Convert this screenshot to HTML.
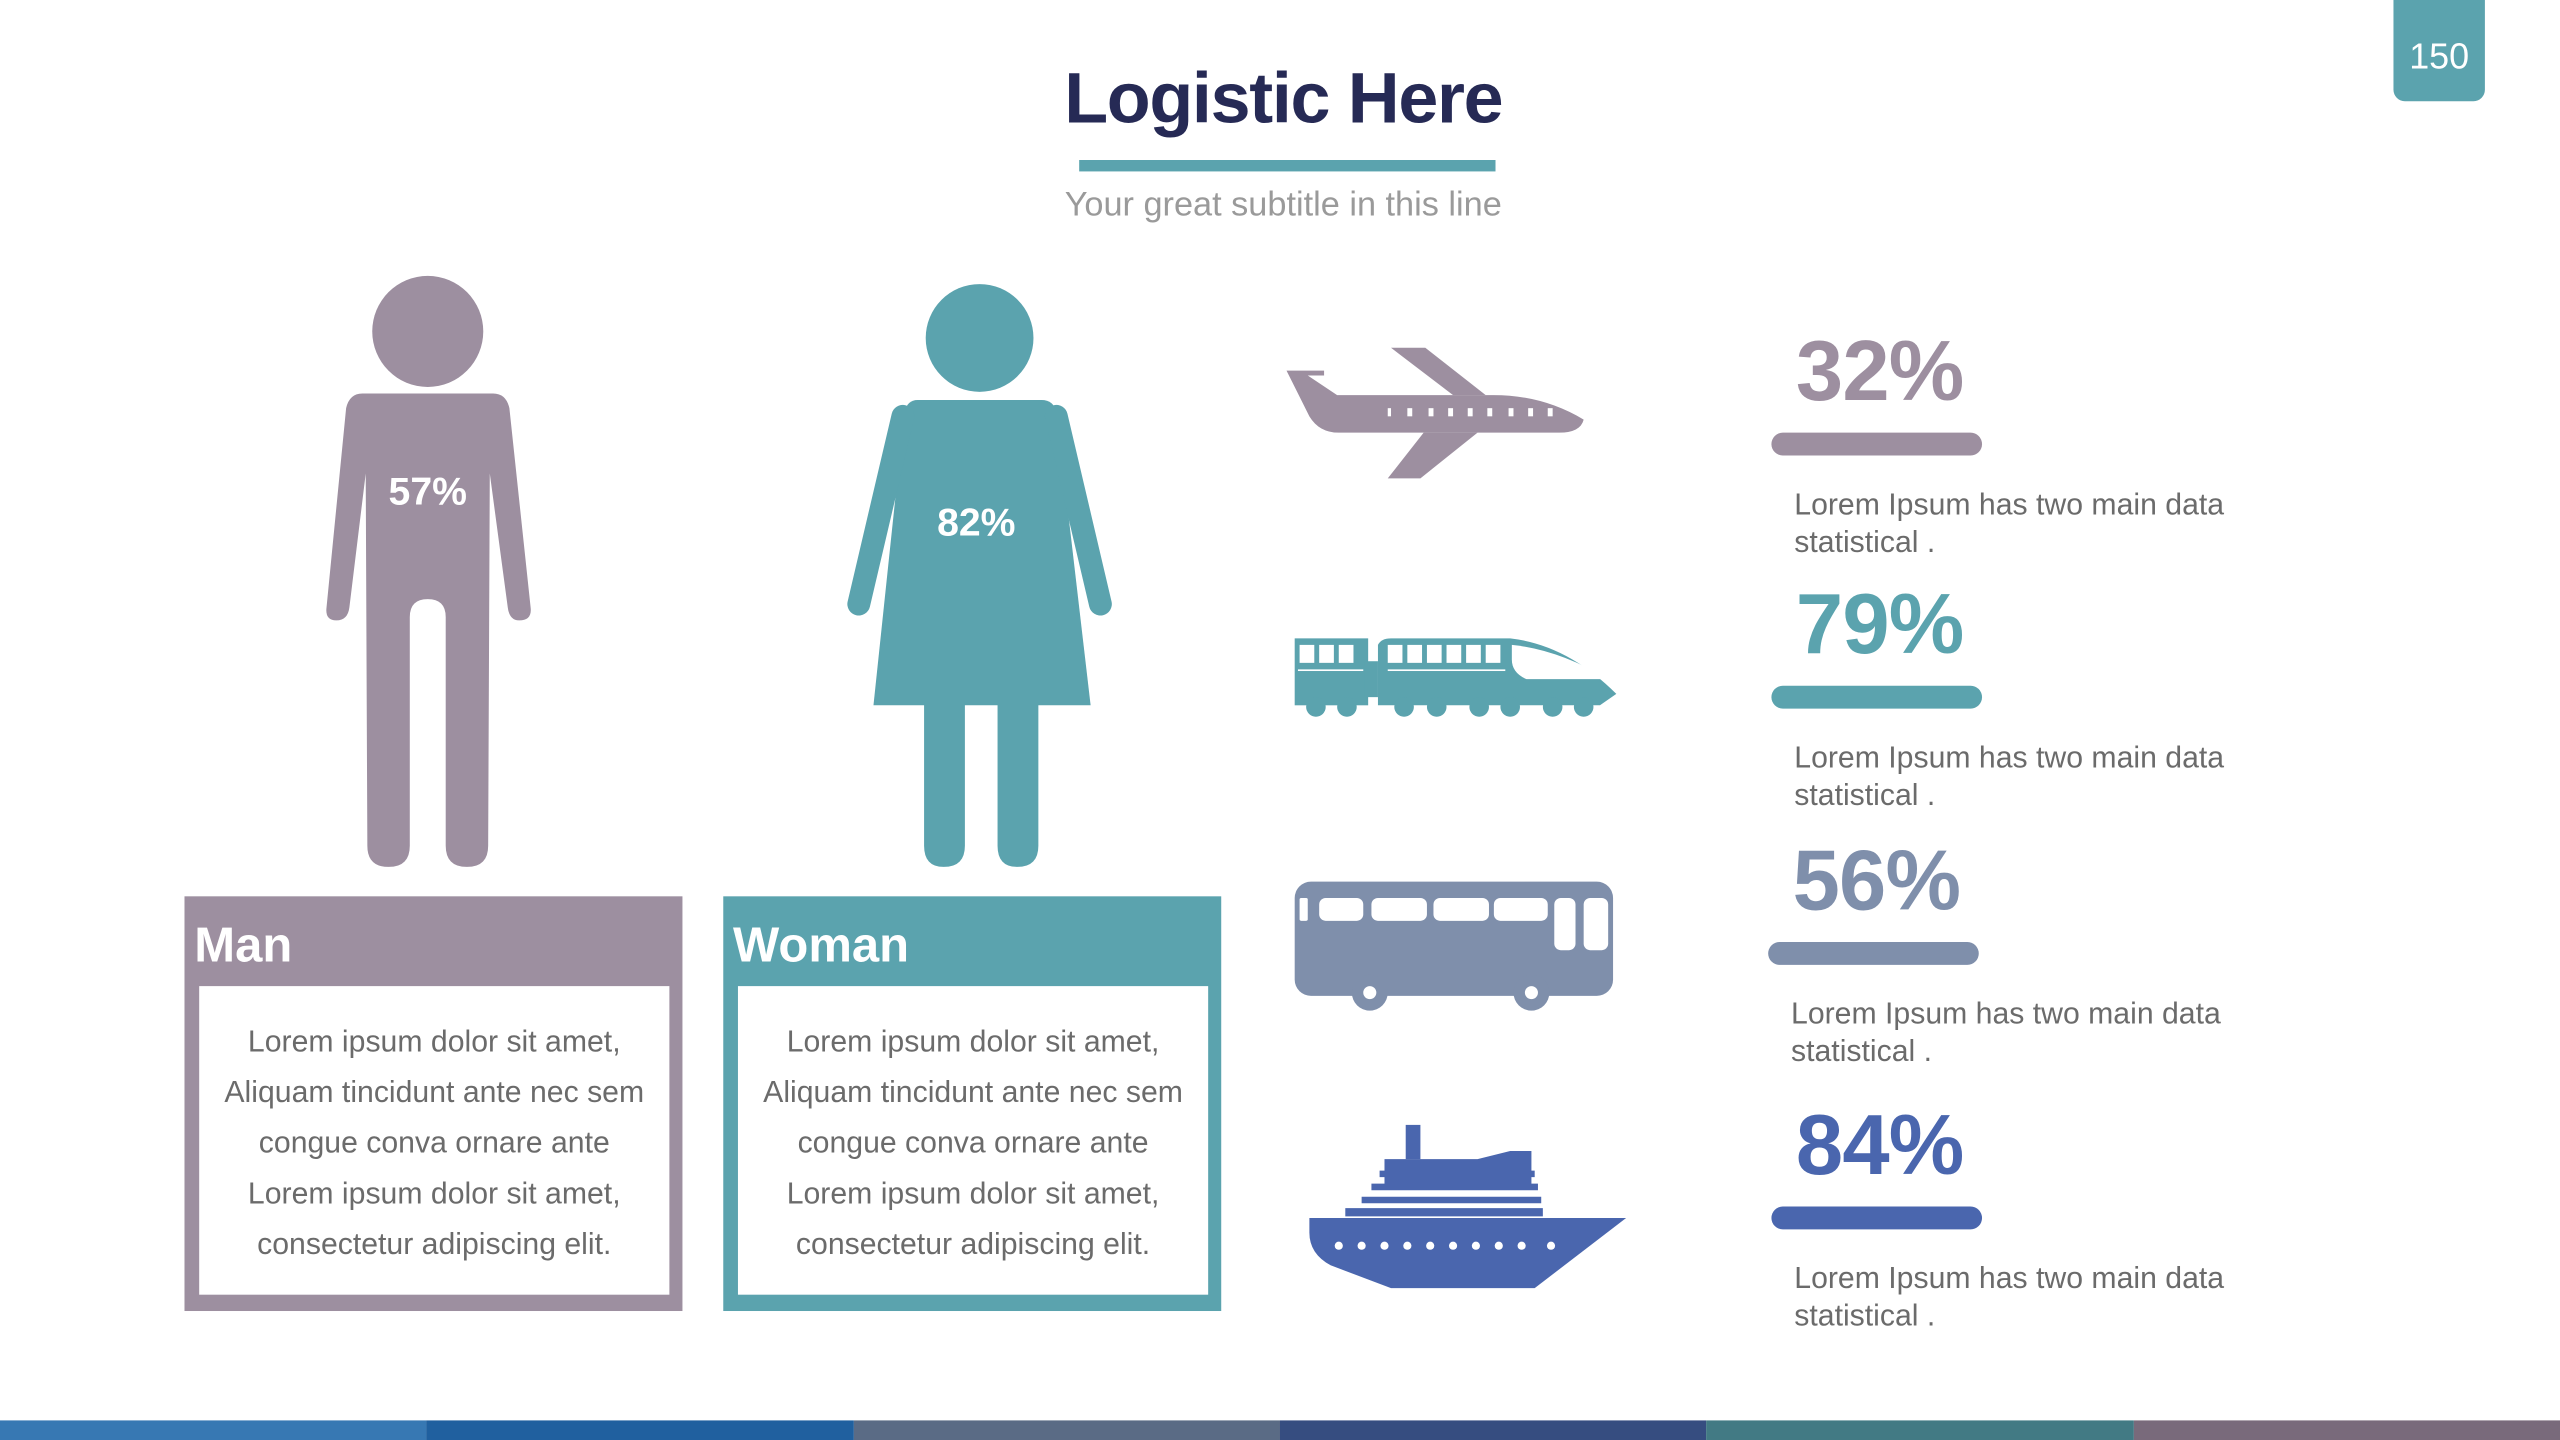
<!DOCTYPE html>
<html><head><meta charset="utf-8">
<style>
html,body{margin:0;padding:0;background:#fff;overflow:hidden}
#root{position:absolute;left:0;top:0;width:1568px;height:882px;transform-origin:0 0;transform:scale(1.63265);font-family:"Liberation Sans",sans-serif}
.abs{position:absolute}
.desc{font-size:18.5px;color:#6b6b6b;line-height:23px}
.boxtxt{position:absolute;left:0;right:0;text-align:center;font-size:18.5px;color:#6b6b6b;line-height:31px}
</style></head><body>
<div id="root">
  <div class="abs" style="left:1466px;top:0;width:56px;height:62px;background:#5ba3ae;border-radius:0 0 7px 7px;color:#fff;font-size:22px;text-align:center;line-height:70px">150</div>
  <div class="abs" style="left:540px;width:492px;top:36px;text-align:center;font-size:44px;font-weight:bold;color:#262a55;letter-spacing:-0.8px">Logistic Here</div>
  <div class="abs" style="left:661px;top:98px;width:255px;height:7px;background:#5ba3ae"></div>
  <div class="abs" style="left:540px;width:492px;top:114px;text-align:center;font-size:21px;color:#9a9a9a">Your great subtitle in this line</div>

  <svg class="abs" style="left:0;top:0" width="1568" height="882">
    <g fill="#9d8fa0">
      <circle cx="262" cy="203" r="34"/>
      <path d="M222 241 H302 Q310 241 312 250 L325 372 Q326 380 318 380 Q312 380 311 372 L300 290 L299 518 Q299 531 286 531 Q273 531 273 518 L273 378 Q273 367 262 367 Q251 367 251 378 L251 518 Q251 531 238 531 Q225 531 225 518 L224 290 L214 372 Q213 380 206 380 Q199 380 200 372 L212 250 Q214 241 222 241 Z"/>
    </g>
    <text x="262" y="309" text-anchor="middle" fill="#fff" font-size="24" font-weight="bold" font-family="Liberation Sans, sans-serif">57%</text>
    <g fill="#5ba3ae">
      <circle cx="600" cy="207" r="33"/>
      <path d="M562 245 H638 Q645 245 647 252 L668 432 H535 L554 252 Q556 245 562 245 Z"/>
      <line x1="553" y1="255" x2="526" y2="370" stroke="#5ba3ae" stroke-width="14" stroke-linecap="round"/>
      <line x1="647" y1="255" x2="674" y2="370" stroke="#5ba3ae" stroke-width="14" stroke-linecap="round"/>
      <path d="M566 430 H591 V518 Q591 531 578 531 Q566 531 566 518 Z"/>
      <path d="M611 430 H636 V518 Q636 531 623 531 Q611 531 611 518 Z"/>
    </g>
    <text x="598" y="328" text-anchor="middle" fill="#fff" font-size="24" font-weight="bold" font-family="Liberation Sans, sans-serif">82%</text>

    <g fill="#9d8fa0">
      <path d="M788 227 H811 V230 H801 L819 242 H915 Q945 242 970 257 Q968 265 955 265 H820 Q808 265 802 255 Z"/>
      <path d="M852 213 H873 L910 242 H890 Z"/>
      <path d="M872 265 H905 L870 293 H850 Z"/>
      <g fill="#fff"><rect x="850" y="250" width="2" height="5"/><rect x="862" y="250" width="3" height="5"/><rect x="875" y="250" width="3" height="5"/><rect x="887" y="250" width="3" height="5"/><rect x="899" y="250" width="3" height="5"/><rect x="911" y="250" width="3" height="5"/><rect x="924" y="250" width="3" height="5"/><rect x="936" y="250" width="3" height="5"/><rect x="948" y="250" width="3" height="5"/></g>
    </g>
    <g fill="#5ba3ae">
      <rect x="793" y="391" width="45" height="41"/>
      <rect x="836" y="405" width="8" height="22"/>
      <path d="M844 395 Q846 391 852 391 H925 Q960 395 990 425 L980 432 H844 Z"/>
      <g><circle cx="806" cy="433" r="6"/><circle cx="825" cy="433" r="6"/><circle cx="860" cy="433" r="6"/><circle cx="880" cy="433" r="6"/><circle cx="906" cy="433" r="6"/><circle cx="925" cy="433" r="6"/><circle cx="951" cy="433" r="6"/><circle cx="970" cy="433" r="6"/></g>
      <g fill="#fff"><rect x="796" y="395" width="9" height="11"/><rect x="808" y="395" width="9" height="11"/><rect x="820" y="395" width="9" height="11"/><rect x="850" y="395" width="9" height="11"/><rect x="862" y="395" width="9" height="11"/><rect x="874" y="395" width="9" height="11"/><rect x="886" y="395" width="9" height="11"/><rect x="898" y="395" width="9" height="11"/><rect x="910" y="395" width="9" height="11"/>
      <path d="M926 395 Q955 398 985 416 H935 Q926 412 926 404 Z"/><rect x="795" y="410" width="40" height="1"/><rect x="850" y="410" width="72" height="1"/></g>
    </g>
    <g fill="#7f8fab">
      <rect x="793" y="540" width="195" height="70" rx="10"/>
      <circle cx="839" cy="608" r="11"/><circle cx="938" cy="608" r="11"/>
      <g fill="#fff"><circle cx="839" cy="608" r="4"/><circle cx="938" cy="608" r="4"/>
      <rect x="796" y="550" width="5" height="14" rx="1"/><rect x="808" y="550" width="27" height="14" rx="4"/><rect x="840" y="550" width="34" height="14" rx="4"/><rect x="878" y="550" width="34" height="14" rx="4"/><rect x="915" y="550" width="33" height="14" rx="4"/><rect x="952" y="550" width="13" height="32" rx="4"/><rect x="970" y="550" width="15" height="32" rx="4"/></g>
    </g>
    <g fill="#4a66ae">
      <rect x="861" y="689" width="9" height="21"/>
      <path d="M848 710 H905 L925 705 H938 V728 H848 Z"/>
      <path d="M824 740 H945 V745 H824 Z M834 733 H944 V737 H834 Z M840 725 H942 V729 H840 Z M845 717 H940 V721 H845 Z"/>
      <path d="M802 746 H996 L940 789 H852 L815 775 Q802 768 802 755 Z"/>
      <g fill="#fff"><circle cx="820" cy="763" r="2.5"/><circle cx="834" cy="763" r="2.5"/><circle cx="848" cy="763" r="2.5"/><circle cx="862" cy="763" r="2.5"/><circle cx="876" cy="763" r="2.5"/><circle cx="890" cy="763" r="2.5"/><circle cx="904" cy="763" r="2.5"/><circle cx="918" cy="763" r="2.5"/><circle cx="932" cy="763" r="2.5"/><circle cx="950" cy="763" r="2.5"/></g>
    </g>
  </svg>

  <div class="abs" style="left:113px;top:549px;width:305px;height:254px;background:#9d8fa0">
    <div class="abs" style="left:6px;top:14px;color:#fff;font-size:30px;font-weight:bold">Man</div>
    <div class="abs" style="left:9px;top:55px;width:288px;height:189px;background:#fff">
      <div class="boxtxt" style="top:18px">Lorem ipsum dolor sit amet,<br>Aliquam tincidunt ante nec sem<br>congue conva ornare ante<br>Lorem ipsum dolor sit amet,<br>consectetur adipiscing elit.</div>
    </div>
  </div>
  <div class="abs" style="left:443px;top:549px;width:305px;height:254px;background:#5ba3ae">
    <div class="abs" style="left:6px;top:14px;color:#fff;font-size:30px;font-weight:bold">Woman</div>
    <div class="abs" style="left:9px;top:55px;width:288px;height:189px;background:#fff">
      <div class="boxtxt" style="top:18px">Lorem ipsum dolor sit amet,<br>Aliquam tincidunt ante nec sem<br>congue conva ornare ante<br>Lorem ipsum dolor sit amet,<br>consectetur adipiscing elit.</div>
    </div>
  </div>

  <div id="stats"></div>

  <div class="abs" style="left:0;top:870px;width:1568px;height:12px;display:flex">
    <div style="flex:1;background:#3778b3"></div>
    <div style="flex:1;background:#20609f"></div>
    <div style="flex:1;background:#5a6b85"></div>
    <div style="flex:1;background:#364d80"></div>
    <div style="flex:1;background:#427a84"></div>
    <div style="flex:1;background:#796a7b"></div>
  </div>
</div>
<script>
const statLabels = ["32%", "79%", "56%", "84%"];
const statValues = [32, 79, 56, 84];
const statNames = ["plane", "train", "bus", "ship"];
const statColors = ["#9d8fa0", "#5ba3ae", "#7f8fab", "#4a66ae"];
const statTops = [200, 355, 512, 674];
const statLefts = [1100, 1100, 1098, 1100];
const stats = document.getElementById('stats');
statValues.forEach((v, i) => {
  const g = document.createElement('div');
  
  
  g.className = 'abs';
  g.style.left = (statLefts[i] - 15) + 'px';
  g.style.top = statTops[i] + 'px';
  g.style.width = '320px';
  const p = document.createElement('div');
  
  
  p.className = 'abs';
  p.style.cssText = 'left:15px;top:0;font-size:52px;font-weight:bold;line-height:56px;letter-spacing:-0.5px;color:' + statColors[i];
  p.textContent = statLabels[i];
  g.appendChild(p);
  const b = document.createElement('div');
  
  
  b.className = 'abs';
  b.style.cssText = 'left:0;top:65px;width:129px;height:14px;border-radius:7px;background:' + statColors[i];
  g.appendChild(b);
  const d = document.createElement('div');
  
  
  d.className = 'abs desc';
  d.style.cssText += 'left:14px;top:97px;width:300px';
  d.innerHTML = 'Lorem Ipsum has two main data<br>statistical .';
  g.appendChild(d);
  stats.appendChild(g);
});
</script>
</body></html>
